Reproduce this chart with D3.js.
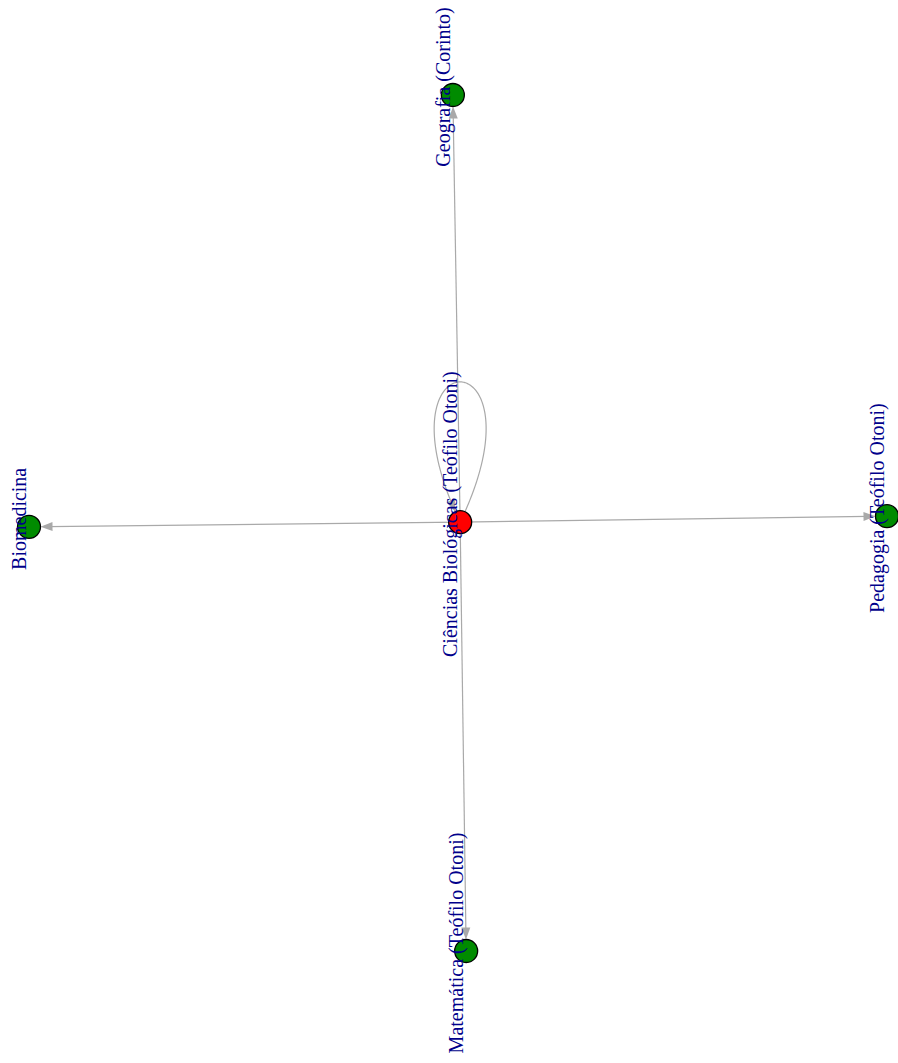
<!DOCTYPE html>
<html>
<head>
<meta charset="utf-8">
<script src="https://cdn.jsdelivr.net/npm/d3@7"></script>
<style>
  body { margin: 0; background: #fff; }
</style>
</head>
<body>
<script>
// nodes (layout coordinates, igraph style in [-1, 1])
const nodeNames = [
    "Ciências Biológicas (Teófilo Otoni)",
    "Geografia (Corinto)",
    "Biomedicina",
    "Pedagogia (Teófilo Otoni)",
    "Matemática (Teófilo Otoni)"
];
const nodeX = [0.005, -0.012, -1, 1, 0.019];
const nodeY = [0.002, 1, -0.009, 0.016, -1];
const nodeGroup = ["origem", "destino", "destino", "destino", "destino"];

// edges (index of source, index of target)
const edgeFrom = [0, 0, 0, 0, 0];
const edgeTo = [0, 1, 2, 3, 4];

const width = 898, height = 1063;
const radius = 11.5;
const edge_color = "#a9a9a9";

const svg = d3.select("body").append("svg")
    .attr("width", width)
    .attr("height", height);

const x = d3.scaleLinear().domain([-1, 1]).range([29, 887]);
const y = d3.scaleLinear().domain([-1, 1]).range([951, 95]);
const color = d3.scaleOrdinal().domain(["origem", "destino"]).range(["#ff0000", "#008b00"]);

const nodes = nodeNames.map((name, i) => ({
    name: name, px: x(nodeX[i]), py: y(nodeY[i]), group: nodeGroup[i]
}));
const edges = edgeFrom.map((s, i) => ({ source: nodes[s], target: nodes[edgeTo[i]] }));

// arrow head drawn as triangle, tip at (tx, ty), direction (dx, dy)
function arrowHead(tx, ty, dx, dy) {
    const len = 12, half = 4.5;
    const bx = tx - dx * len, by = ty - dy * len;
    const nx = -dy, ny = dx;
    return [[tx, ty], [bx + nx * half, by + ny * half], [bx - nx * half, by - ny * half]];
}

const edge_g = svg.append("g");

edges.forEach(e => {
    const s = e.source, t = e.target;
    if (s === t) {
        // self loop as cubic bezier
        const p0 = [s.px, s.py], p1 = [s.px + 90, s.py - 187],
              p2 = [s.px - 90, s.py - 187], p3 = [s.px, s.py];
        const bez = tt => {
            const u = 1 - tt;
            return [
                u * u * u * p0[0] + 3 * u * u * tt * p1[0] + 3 * u * tt * tt * p2[0] + tt * tt * tt * p3[0],
                u * u * u * p0[1] + 3 * u * u * tt * p1[1] + 3 * u * tt * tt * p2[1] + tt * tt * tt * p3[1]
            ];
        };
        // find where the curve enters the node circle
        let tEnd = 1;
        for (let tt = 1; tt > 0.5; tt -= 0.001) {
            const p = bez(tt);
            if (Math.hypot(p[0] - s.px, p[1] - s.py) > radius) { tEnd = tt; break; }
        }
        const pts = d3.range(0, tEnd, 0.005).map(bez);
        pts.push(bez(tEnd));
        edge_g.append("path")
            .attr("d", d3.line()(pts))
            .attr("fill", "none")
            .attr("stroke", edge_color)
            .attr("stroke-width", 1.2);
        const a = bez(tEnd), b = bez(tEnd - 0.03);
        const L = Math.hypot(a[0] - b[0], a[1] - b[1]);
        edge_g.append("polygon")
            .attr("points", arrowHead(a[0], a[1], (a[0] - b[0]) / L, (a[1] - b[1]) / L).join(" "))
            .attr("fill", edge_color);
    } else {
        const dx = t.px - s.px, dy = t.py - s.py;
        const L = Math.hypot(dx, dy);
        const ux = dx / L, uy = dy / L;
        const tx = t.px - ux * radius, ty = t.py - uy * radius;
        edge_g.append("line")
            .attr("x1", s.px).attr("y1", s.py)
            .attr("x2", tx - ux * 8).attr("y2", ty - uy * 8)
            .attr("stroke", edge_color)
            .attr("stroke-width", 1.2);
        edge_g.append("polygon")
            .attr("points", arrowHead(tx, ty, ux, uy).join(" "))
            .attr("fill", edge_color);
    }
});

// vertices
svg.append("g").selectAll("circle")
    .data(nodes)
    .enter()
    .append("circle")
    .attr("cx", d => d.px)
    .attr("cy", d => d.py)
    .attr("r", radius)
    .attr("fill", d => color(d.group))
    .attr("stroke", "#000")
    .attr("stroke-width", 1.3);

// labels, rotated
svg.append("g").selectAll("text")
    .data(nodes)
    .enter()
    .append("text")
    .attr("transform", d => `translate(${d.px - 3}, ${d.py - 8}) rotate(-90)`)
    .attr("text-anchor", "middle")
    .attr("font-family", "'Liberation Serif', 'Times New Roman', serif")
    .attr("font-size", 20)
    .attr("fill", "#00008b")
    .text(d => d.name);
</script>
</body>
</html>
